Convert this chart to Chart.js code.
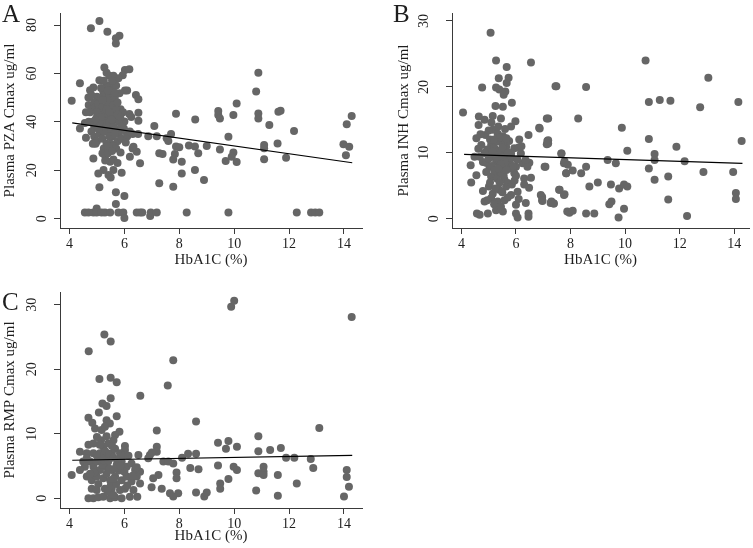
<!DOCTYPE html>
<html><head><meta charset="utf-8">
<script src="https://cdn.jsdelivr.net/npm/chart.js@4.4.1/dist/chart.umd.min.js"></script>
<style>
html,body{margin:0;padding:0;background:#fff;}
body{width:753px;height:548px;position:relative;overflow:hidden;}
canvas{position:absolute;display:block;}
</style></head><body>
<canvas id="cA" width="376" height="272" style="left:0;top:0"></canvas>
<canvas id="cB" width="377" height="272" style="left:376px;top:0"></canvas>
<canvas id="cC" width="376" height="272" style="left:0;top:276px"></canvas>
<script>
// ---- data ----
const xTicks = [4, 6, 8, 10, 12, 14];
const pzaTicks = [0, 20, 40, 60, 80];
const inhTicks = [0, 10, 20, 30];
const rmpTicks = [0, 10, 20, 30];
const xTitle = 'HbA1C (%)';
const pzaTitle = 'Plasma PZA Cmax ug/ml';
const inhTitle = 'Plasma INH Cmax ug/ml';
const rmpTitle = 'Plasma RMP Cmax ug/ml';

const pzaPoints = [
[5.09,81.7],[4.78,78.7],[5.38,77.2],[5.82,75.6],[5.69,74.5],[5.69,72.4],
[4.08,48.7],[4.38,55.9],[4.38,37.3],[4.6,33.4],[4.56,39.5],
[5.27,62.5],[5.35,60.3],[6.02,61.4],[6.18,61.7],[5.94,59.3],[5.09,57.2],[5.6,56.6],[5.48,54.8],[5.78,58],[4.87,54.2],[4.75,53.1],[6.02,52.9],[5.23,52.5],[6.42,51.1],[6.51,49.3],[4.69,50.1],[5.0,50.4],[5.82,51.8],[5.86,45.2],[6.18,43.2],[6.51,43.8],[6.51,40.5],[6.0,40.1],[5.98,37.3],
[4.7,47],[4.8,45],[4.75,44],[4.9,48],[4.95,46],[5.05,47.5],[5.1,44],[5.15,50],[5.2,46],[5.25,43],[5.3,49],[5.35,55],[5.3,52],[5.4,47],[5.45,51],[5.5,45],[5.5,49],[5.55,53],[5.6,47],[5.6,43],[5.65,50],[5.7,45],[5.7,55],[5.75,48],[5.4,42],[5.3,40],[5.2,38],[5.1,40],[5.0,42],[4.9,38],[4.85,40],[4.7,40],[4.8,36],[4.9,34],[5.0,32],[4.85,31],[4.95,31],[5.1,35],[5.2,33],[5.3,36],[5.35,38],[5.45,40],[5.5,36],[5.55,34],[5.6,38],[5.65,41],[5.7,37],[5.8,40],[5.8,35],[5.75,32],[5.9,33],[5.5,31],[5.35,31],[5.25,29],[5.3,26],[5.4,30],[5.6,30],[5.7,29],[5.9,38],[6.05,36],[6.1,34],[6.2,36],[6.3,35],[6.5,35],[6.3,29],[6.45,27.7],[6.33,29.7],[6.2,25.6],[6.57,22.9],[5.86,27.3],[5.48,23.5],[5.6,24.5],[5.75,23],[5.3,24],[4.87,24.9],[5.42,18],[5.24,20.1],[5.05,18.7],[5.6,20.1],[5.9,19],[5.5,17],[5.09,13],[5.69,10.9],[6.0,9.4],[5.69,6.1],[5.2,27],[5.0,44],[6.1,53],[5.95,44],[6.25,42],[6.05,31.5],[5.45,59],[5.25,57],[5.6,59],[4.8,51],[4.6,44],
[5.15,54],[5.4,53],[5.55,57],[5.65,52],[5.2,49],[5.35,45],[5.45,44],[5.55,41],[5.25,36],[5.15,42],[5.05,37],[4.95,41],[5.75,43],[5.85,42],[5.45,34],[5.65,35],[5.4,27],[5.55,28],
[4.56,2.6],[4.69,2.6],[4.87,2.6],[4.99,4.2],[4.99,2.6],[5.17,2.6],[5.29,2.6],[5.48,2.6],[5.78,2.6],[5.96,2.6],[6.0,0.3],[6.45,2.6],[6.57,2.6],[6.65,2.6],[6.94,1.1],[6.96,2.6],[7.18,2.6],[8.27,2.6],[9.79,2.6],[12.28,2.6],[12.8,2.6],[12.95,2.6],[13.1,2.6],
[6.87,34.1],[7.09,38.3],[7.18,34.1],[7.54,33.2],[7.6,32.1],[7.7,35],[7.88,43.3],[7.88,29.8],[8.0,29.5],[7.84,26.7],[7.78,24.5],[8.09,18.7],[8.09,23.5],[8.35,30.2],[8.58,41],[8.57,29.8],[8.69,27],[8.57,20.1],[8.9,16],[9.0,30],[7.27,27],[7.39,26.7],[7.27,14.6],[7.78,13.2],[10.88,60.3],[10.8,52.5],[10.09,47.6],[9.42,44.5],[9.42,42.8],[9.48,41.4],[9.97,42.8],[10.88,43.5],[10.88,41.4],[11.61,44.2],[11.69,44.6],[11.28,38.7],[12.18,36.2],[14.1,39],[14.28,42.4],[9.79,33.9],[9.48,28.6],[11.09,30.4],[11.09,29.1],[11.58,31.1],[11.89,25.2],[11.09,24.6],[9.69,23.8],[9.97,27.3],[9.91,25.6],[10.09,23.4],[13.98,30.7],[14.19,29.7],[14.07,26.2]
];

const inhPoints = [
[5.07,28.2],[5.27,24.0],[6.55,23.7],[5.66,23.0],[5.73,21.4],[5.66,20.6],[5.37,21.3],[4.76,19.9],[5.27,19.9],[5.39,19.6],[5.61,19.3],[5.55,18.8],[5.85,17.6],[7.45,20.1],[4.06,16.1],[5.25,17.1],[5.52,17.0],[5.15,15.6],[4.64,15.5],[4.85,15.0],[5.45,15.2],[5.98,14.8],[7.13,15.2],[4.63,14.2],[6.85,13.8],[5.82,14.0],[6.46,12.7],[7.15,11.8],[7.13,11.3],[4.55,12.2],[4.88,12.7],
[5.15,13.5],[5.33,12.9],[5.52,12.5],[6.12,12.0],[4.73,11.2],[5.09,11.2],[5.39,11.7],[5.64,10.9],[5.94,10.7],[6.18,9.9],
[4.48,9.4],[4.67,9.4],[4.91,9.9],[5.15,9.4],[5.39,9.9],[5.64,9.2],[5.82,9.9],[4.34,8.1],[4.55,6.6],[4.36,5.5],
[4.79,8.6],[5.03,7.9],[5.27,8.6],[5.52,7.9],[5.76,8.4],[6.0,7.9],[6.24,8.4],[6.49,8.5],[6.42,7.9],[7.05,7.9],[7.67,9.9],[7.76,8.4],[7.84,6.9],
[4.91,7.1],[5.09,6.4],[5.33,6.9],[5.58,5.9],[5.94,6.9],[6.3,6.1],[6.55,6.2],
[4.79,4.2],[5.01,4.9],[5.15,3.8],[5.39,4.4],[5.64,4.9],[5.82,3.6],[6.06,4.1],[6.48,4.7],
[4.85,2.6],[5.09,3.1],[5.33,2.6],[5.58,2.8],[6.0,2.1],[6.36,2.4],[6.91,3.6],[6.97,2.7],[7.27,2.4],[7.39,2.3],[7.58,4.4],[7.76,3.6],
[4.57,0.8],[4.67,0.6],[4.97,0.8],[5.27,1.3],[5.52,1.1],[6.0,0.8],[6.06,0.2],[6.46,0.8],[6.46,0.3],[7.88,1.1],
[4.95,10.5],[5.05,12.0],[5.2,10.8],[5.25,11.8],[5.3,10.2],[5.35,8.9],[5.45,10.4],[5.5,9.5],[5.55,11.3],[5.6,8.6],[5.7,10.1],[5.75,11.8],[5.8,7.6],[5.85,9.2],[5.9,8.0],[6.05,9.0],[6.1,10.8],[4.85,10.0],[4.9,8.5],[5.0,9.1],[5.1,8.0],[5.2,7.3],[5.3,6.1],[5.4,5.5],[5.45,7.0],[5.55,6.5],[5.65,7.4],[5.7,5.4],[5.85,5.2],[5.95,5.8],[6.0,6.5],[5.05,5.5],[5.25,4.6],[5.5,4.0],[5.7,3.2],[4.95,2.8],[5.2,2.2],[5.45,1.8],[6.1,3.0],[6.3,5.2],[4.7,12.8],[5.0,13.4],[5.35,14.0],[5.6,13.6],[5.1,14.6],[6.2,11.0],[6.35,8.9],[4.62,10.6],
[5.4,12.3],[5.2,12.0],[5.5,10.8],[5.3,9.2],[5.45,8.3],[5.15,10.2],[5.65,12.2],[5.35,7.6],
[13.05,21.4],[10.75,24.0],[10.87,17.7],[11.27,18.0],[11.66,17.9],[12.75,16.9],[14.15,17.7],[10.87,12.1],[11.88,10.9],[14.27,11.8],[9.88,13.8],[10.08,10.3],[11.08,9.8],[11.08,8.9],[10.87,7.6],[11.08,5.9],[12.18,8.7],[12.87,7.1],[13.96,7.1],[14.06,3.9],[14.06,3.0],[11.58,6.4],[11.58,2.9],[12.27,0.4],
[8.28,15.2],[8.57,20.0],[7.48,20.1],[9.36,8.9],[9.66,8.4],[8.39,6.9],[8.57,7.9],[8.69,4.9],[9.0,5.5],[9.48,5.2],[9.78,4.6],[9.96,5.2],[10.08,4.9],[9.42,2.2],[9.5,2.6],[9.96,1.5],[9.76,0.2],[8.57,0.8],[8.87,0.8],[7.96,0.9],[8.08,1.2],[7.84,6.9],[8.08,7.3],[7.9,8.2],[7.78,8.7],[7.66,9.9],[7.78,3.7],[7.6,4.4],[7.3,2.6],[7.38,2.3],[6.96,3.3],[6.96,2.8],[7.08,7.9],[6.87,13.7],[7.18,15.2],[7.18,11.9],[7.18,11.4]
];

const rmpPoints = [
[5.27,25.4],[5.50,24.3],[4.70,22.8],[5.09,18.5],[5.50,18.7],[5.72,18.0],[6.58,15.9],[5.50,15.5],[5.20,14.7],[5.35,14.3],[4.69,12.5],[4.83,11.7],[5.07,13.3],[5.72,12.7],[5.35,12.1],[5.47,11.6],[4.93,10.8],[5.17,10.6],[5.29,11.1],[5.82,10.3],[5.66,9.8],[5.60,9.0],[4.69,8.3],[4.87,8.5],[5.23,8.0],[5.41,8.5],[4.38,7.2],[4.63,7.0],[6.02,8.1],[6.02,7.5],[5.66,7.7],[5.84,7.0],[6.51,6.7],
[4.5,5.7],[4.56,4.9],[4.75,5.7],[4.87,4.9],[4.99,5.7],[5.11,4.4],[5.29,4.9],[5.41,5.7],[5.54,4.4],[5.72,5.2],[5.9,5.7],[6.08,4.9],[6.26,5.4],[6.39,4.4],[6.57,4.1],
[4.63,3.4],[4.81,2.8],[4.99,3.4],[5.23,3.1],[5.48,2.8],[5.66,3.4],[5.9,2.8],[6.08,3.4],[6.26,2.6],[6.45,3.4],[6.57,2.3],
[4.81,1.5],[4.99,1.3],[5.29,1.5],[5.54,1.5],[5.84,1.3],[6.02,1.5],[6.33,1.3],
[4.87,7.0],[5.11,7.0],[5.35,6.5],[5.54,7.0],[4.63,6.2],
[4.69,0.0],[4.87,0.0],[5.05,0.15],[5.23,0.25],[5.48,0.0],[5.66,0.15],[5.9,0.0],[6.2,0.25],[6.47,0.25],
[4.08,3.6],[4.38,4.4],
[5.0,9.5],[5.15,9.0],[5.3,7.3],[5.45,6.8],[5.6,6.3],[5.75,6.0],[5.95,6.6],[6.15,6.6],[6.3,3.5],[5.2,5.2],[5.35,3.8],[5.5,2.0],[5.7,2.2],[5.8,4.3],[6.0,4.1],[6.1,2.0],[5.05,2.2],[4.9,4.0],[4.75,3.8],[5.4,1.0],[5.6,0.5],[5.25,5.9],[5.55,8.1],[6.45,4.8],
[5.1,8.3],[5.35,9.6],[5.45,4.6],[5.65,4.6],[5.15,6.2],[5.85,5.0],[5.0,6.6],[5.6,3.0],
[7.18,10.5],[7.18,8.0],[7.18,7.2],[6.93,6.7],[7.0,7.1],[6.87,6.2],[7.42,5.7],[7.6,5.7],[7.78,5.4],[7.9,4.0],[7.9,3.1],[7.24,3.6],[7.05,3.1],[6.99,1.7],[7.36,1.5],[7.66,0.8],[7.78,0.3],[7.96,0.8],[7.78,21.4],[7.58,17.5],
[9.89,29.7],[10.0,30.6],[14.28,28.1],[8.61,11.9],[13.1,10.9],[10.88,9.6],[9.41,8.6],[9.79,8.9],[9.70,7.7],[10.1,8.0],[11.31,7.5],[10.88,7.3],[11.7,7.8],[11.89,6.3],[12.19,6.3],[12.79,6.1],[12.88,4.7],[12.28,2.3],[14.1,4.4],[14.1,3.3],[14.18,1.8],[14.0,0.3],[11.59,0.4],[11.59,3.6],[10.8,1.2],[11.07,4.9],[11.07,4.1],[10.88,3.9],[11.07,3.6],[9.98,4.9],[10.1,4.4],[9.41,5.1],[9.79,3.0],[9.49,2.3],[9.49,1.5],[8.91,0.3],[9.0,0.9],[8.61,0.9],[8.70,4.5],[8.4,4.7],[8.32,6.9],[8.61,6.9],[8.1,6.3]
];

// fitted lines (end points)
const pzaFit = [[4.1,39.6],[14.3,23.1]];
const inhFit = [[4.1,9.75],[14.3,8.4]];
const rmpFit = [[4.1,5.9],[14.3,6.65]];

// ---- drawing ----
const SERIF = '"Liberation Serif", "DejaVu Serif", serif';
const TEXT = '#1e1e1e';
const AXIS = '#3a3a3a';
const DOT = '#666666';
Chart.defaults.font.family = SERIF;

const deco = {
  id: 'deco',
  afterDraw(chart, args, o) {
    const ctx = chart.ctx, ys = chart.scales.y, area = chart.chartArea;
    ctx.save();
    ctx.fillStyle = TEXT;
    ctx.font = '14px ' + SERIF;
    ctx.textAlign = 'center';
    ctx.textBaseline = 'middle';
    o.ticks.forEach(v => {
      const lab = String(v);
      const w = ctx.measureText(lab).width;
      const py = ys.getPixelForValue(v);
      const cx = area.left - 8 - 1.4 * w;
      ctx.save();
      ctx.translate(cx, py);
      ctx.rotate(-Math.PI / 2);
      ctx.fillText(lab, 0, 0);
      ctx.restore();
    });
    ctx.font = '25px ' + SERIF;
    ctx.textAlign = 'left';
    ctx.textBaseline = 'alphabetic';
    ctx.fillText(o.letter, o.lx, o.ly);
    ctx.restore();
  }
};

function panel(id, pts, fit, yTicks, yTitle, cfg) {
  const cv = document.getElementById(id);
  const W = cv.width, H = cv.height;
  new Chart(cv, {
    type: 'scatter',
    data: {
      datasets: [
        { data: fit.map(p => ({x: p[0], y: p[1]})), showLine: true, borderColor: '#000', borderWidth: 1.2, pointRadius: 0, fill: false },
        { data: pts.map(p => ({x: p[0], y: p[1]})), backgroundColor: DOT, borderWidth: 0, pointRadius: 4, pointHoverRadius: 4 }
      ]
    },
    options: {
      responsive: false, animation: false, devicePixelRatio: 1,
      layout: { padding: { left: 0, top: cfg.top, right: W - cfg.right, bottom: 0 } },
      plugins: { legend: { display: false }, tooltip: { enabled: false },
        deco: { ticks: yTicks, letter: cfg.letter, lx: cfg.lx, ly: cfg.ly } },
      events: [],
      scales: {
        x: {
          type: 'linear', min: cfg.xMin, max: cfg.xMax,
          afterBuildTicks: s => { s.ticks = xTicks.map(v => ({value: v})); },
          afterFit: s => { s.height = H - cfg.bottom; },
          border: { display: true, color: AXIS, width: 1 },
          grid: { drawOnChartArea: false, drawTicks: true, tickLength: 6, color: AXIS },
          ticks: { color: TEXT, font: { size: 14 }, padding: 2, maxRotation: 0, minRotation: 0 },
          title: { display: true, text: xTitle, color: TEXT, font: { size: 15 }, padding: { top: 0, bottom: 3 } }
        },
        y: {
          type: 'linear', min: cfg.yMin, max: cfg.yMax,
          afterBuildTicks: s => { s.ticks = yTicks.map(v => ({value: v})); },
          afterFit: s => { s.width = cfg.left; },
          border: { display: true, color: AXIS, width: 1 },
          grid: { drawOnChartArea: false, drawTicks: true, tickLength: 6, color: AXIS },
          ticks: { color: 'rgba(0,0,0,0)', font: { size: 14 } },
          title: { display: true, text: yTitle, color: TEXT, font: { size: 15 }, padding: { top: cfg.ytPad, bottom: 0 } }
        }
      }
    },
    plugins: [deco]
  });
}

panel('cA', pzaPoints, pzaFit, pzaTicks, pzaTitle,
  { left: 60, top: 13, right: 362, bottom: 228, xMin: 3.654, xMax: 14.656, yMin: -3.84, yMax: 84.96, ytPad: 1, letter: 'A', lx: 2, ly: 22 });
panel('cB', inhPoints, inhFit, inhTicks, inhTitle,
  { left: 76, top: 13, right: 377, bottom: 228, xMin: 3.656, xMax: 14.54, yMin: -1.41, yMax: 31.21, ytPad: 19, letter: 'B', lx: 17, ly: 22 });
panel('cC', rmpPoints, rmpFit, rmpTicks, rmpTitle,
  { left: 60, top: 16, right: 362, bottom: 232, xMin: 3.654, xMax: 14.656, yMin: -1.50, yMax: 31.97, ytPad: 1, letter: 'C', lx: 2, ly: 34 });
</script>
</body></html>
